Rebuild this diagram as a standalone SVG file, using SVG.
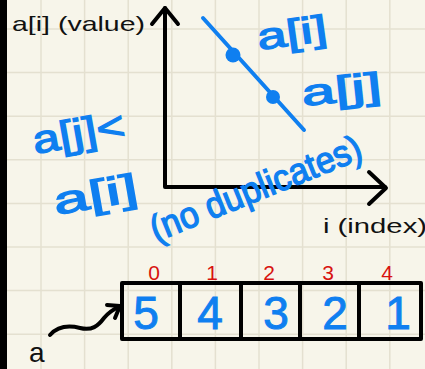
<svg xmlns="http://www.w3.org/2000/svg" width="425" height="369" viewBox="0 0 425 369">
<defs>
<style>
.grid{stroke:#e4e0d0;stroke-width:1.5}
.ink{stroke:#000;stroke-width:4;fill:none;stroke-linecap:round;stroke-linejoin:round}
.blue{stroke:#0f7ff0;stroke-width:4;fill:none;stroke-linecap:round}
.bt{font-family:"Liberation Sans",Arial,sans-serif;fill:#0f7ff0;stroke:#0f7ff0;stroke-width:1.2}
.kt{font-family:"Liberation Sans",Arial,sans-serif;fill:#111}
.rt{font-family:"Liberation Sans",Arial,sans-serif;fill:#d8120f;font-size:21px;text-anchor:middle}
.dig{font-family:"Liberation Sans",Arial,sans-serif;fill:#0f7ff0;stroke:#0f7ff0;stroke-width:1;font-size:46px;text-anchor:middle}
</style>
</defs>
<rect width="425" height="369" fill="#f7f5ea"/>
<g id="grid">
<line class="grid" x1="41" y1="0" x2="41" y2="369"/>
<line class="grid" x1="84.6" y1="0" x2="84.6" y2="369"/>
<line class="grid" x1="128.2" y1="0" x2="128.2" y2="369"/>
<line class="grid" x1="171.8" y1="0" x2="171.8" y2="369"/>
<line class="grid" x1="215.4" y1="0" x2="215.4" y2="369"/>
<line class="grid" x1="259" y1="0" x2="259" y2="369"/>
<line class="grid" x1="302.6" y1="0" x2="302.6" y2="369"/>
<line class="grid" x1="346.2" y1="0" x2="346.2" y2="369"/>
<line class="grid" x1="389.8" y1="0" x2="389.8" y2="369"/>
<line class="grid" x1="0" y1="29" x2="425" y2="29"/>
<line class="grid" x1="0" y1="72.6" x2="425" y2="72.6"/>
<line class="grid" x1="0" y1="116.2" x2="425" y2="116.2"/>
<line class="grid" x1="0" y1="159.8" x2="425" y2="159.8"/>
<line class="grid" x1="0" y1="203.4" x2="425" y2="203.4"/>
<line class="grid" x1="0" y1="247" x2="425" y2="247"/>
<line class="grid" x1="0" y1="290.6" x2="425" y2="290.6"/>
<line class="grid" x1="0" y1="334.2" x2="425" y2="334.2"/>
</g>
<rect x="0" y="0" width="7" height="369" fill="#000"/>
<g id="axes">
<polyline class="ink" points="165,8 165,187 385,187"/>
<polyline class="ink" points="152,24 165,8 178,24"/>
<polyline class="ink" points="369,172 386,188 369,204"/>
<text class="kt" x="12" y="31" font-size="21" textLength="133" lengthAdjust="spacingAndGlyphs">a[i] (value)</text>
<text class="kt" x="323" y="233" font-size="21" textLength="104" lengthAdjust="spacingAndGlyphs">i (index)</text>
</g>
<g id="plot">
<line class="blue" x1="203" y1="18" x2="304" y2="130"/>
<circle cx="233" cy="55" r="7.5" fill="#0f7ff0"/>
<circle cx="273" cy="97" r="7" fill="#0f7ff0"/>
<text class="bt" font-size="32" textLength="70" lengthAdjust="spacingAndGlyphs" transform="translate(259,50) rotate(-8) scale(1,1.15)">a[i]</text>
<text class="bt" font-size="32" textLength="80" lengthAdjust="spacingAndGlyphs" transform="translate(303,106) rotate(-6) scale(1,1.15)">a[j]</text>
<text class="bt" font-size="34" textLength="93" lengthAdjust="spacingAndGlyphs" transform="translate(35,154) rotate(-10) scale(1,1.15)">a[j]&lt;</text>
<text class="bt" font-size="34" textLength="85" lengthAdjust="spacingAndGlyphs" transform="translate(56,215) rotate(-10) scale(1,1.15)">a[i]</text>
<text class="bt" font-size="32" textLength="225" lengthAdjust="spacingAndGlyphs" transform="translate(156,242) rotate(-22) scale(1,1.15)">(no duplicates)</text>
</g>
<g id="array">
<rect class="ink" x="122" y="283" width="299" height="56"/>
<line class="ink" x1="180" y1="283" x2="180" y2="339"/>
<line class="ink" x1="241" y1="283" x2="241" y2="339"/>
<line class="ink" x1="300" y1="283" x2="300" y2="339"/>
<line class="ink" x1="359" y1="283" x2="359" y2="339"/>
<text class="rt" x="154" y="280">0</text>
<text class="rt" x="212" y="280">1</text>
<text class="rt" x="269" y="280">2</text>
<text class="rt" x="328" y="280">3</text>
<text class="rt" x="387" y="280">4</text>
<text class="dig" x="146" y="329">5</text>
<text class="dig" x="210" y="329">4</text>
<text class="dig" x="276" y="329">3</text>
<text class="dig" x="335" y="329">2</text>
<text class="dig" x="398" y="329">1</text>
</g>
<g id="connectors">
<path class="ink" stroke-width="3" d="M50,335 C58,326 68,325 80,328 C92,331 98,326 104,318 C108,313 114,309 120,306"/>
<polyline class="ink" stroke-width="3" points="107,305 120,306 115,318"/>
</g>
<text class="kt" x="29" y="362" font-size="28">a</text>
</svg>
